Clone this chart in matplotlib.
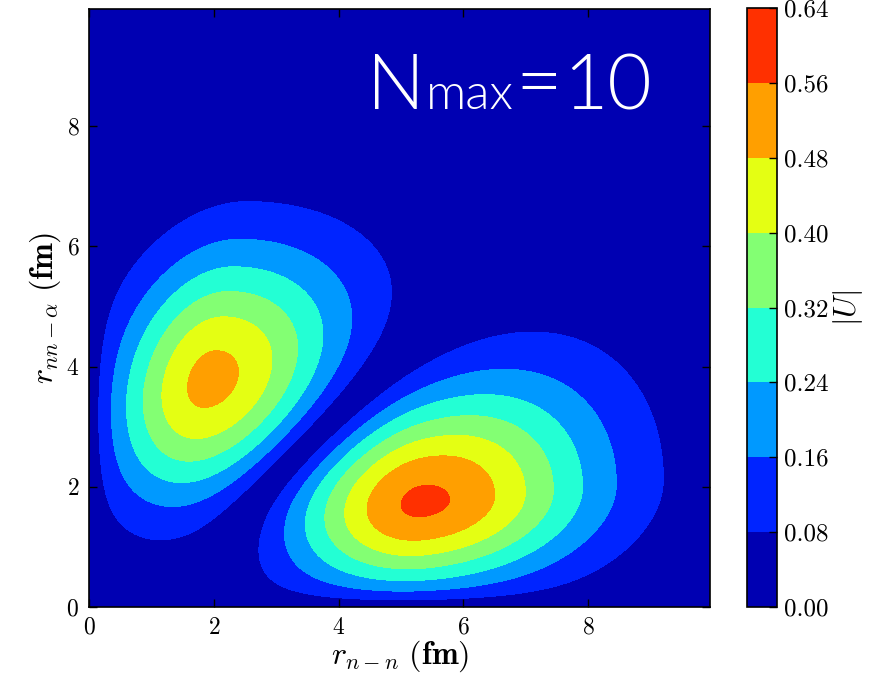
import numpy as np
import matplotlib
matplotlib.use('Agg')
import matplotlib.pyplot as plt
from matplotlib.offsetbox import TextArea, HPacker, AnnotationBbox

plt.rcParams['font.family'] = 'serif'
plt.rcParams['font.serif'] = ['cmr10']
plt.rcParams['mathtext.fontset'] = 'cm'
plt.rcParams['axes.formatter.use_mathtext'] = True
plt.rcParams['axes.unicode_minus'] = False

# Two lobes of the n-n / nn-alpha amplitude (fm), signed peak heights
# and widths on the low / high side of each peak
lobe_x0 = [1.94, 5.33]
lobe_y0 = [3.77, 1.74]
lobe_amp = [0.505, -0.575]
lobe_sx_lo = [1.10, 1.50]
lobe_sx_hi = [1.40, 1.95]
lobe_sy_lo = [1.45, 1.05]
lobe_sy_hi = [1.55, 1.25]
lobe_shear_x = [0.20, 0.0]  # x-centre drifts with r_nn-alpha
lobe_shear_y = [0.0, 0.10]  # y-centre drifts with r_n-n
lobe_kx = [0.14, 0.0]       # outer x-width grows with r_nn-alpha
lobe_ky = [0.0, 0.15]       # outer y-width grows with r_n-n
wall = 0.2                  # amplitude vanishes at r = 0

levels = [0.00, 0.08, 0.16, 0.24, 0.32, 0.40, 0.48, 0.56, 0.64]
axis_ticks = [0, 2, 4, 6, 8]
r_max = 9.95


def amplitude(X, Y):
    psi = np.zeros_like(X)
    for i in range(len(lobe_amp)):
        dx = X - lobe_x0[i]
        dy = Y - lobe_y0[i]
        u = dx - lobe_shear_x[i] * dy
        v = dy - lobe_shear_y[i] * dx
        sxh = np.clip(lobe_sx_hi[i] + lobe_kx[i] * dy, 0.3, None)
        syh = np.clip(lobe_sy_hi[i] + lobe_ky[i] * dx, 0.3, None)
        sx = np.where(u < 0, lobe_sx_lo[i], sxh)
        sy = np.where(v < 0, lobe_sy_lo[i], syh)
        psi += lobe_amp[i] * np.exp(-0.5 * ((u / sx) ** 2 + (v / sy) ** 2))
    psi *= (1 - np.exp(-X / wall)) * (1 - np.exp(-Y / wall))
    return np.abs(psi)


r_nn = np.linspace(0, r_max, 600)
r_c = np.linspace(0, r_max, 600)
X, Y = np.meshgrid(r_nn, r_c)
U = amplitude(X, Y)

colors = plt.cm.jet(np.linspace(0.045, 0.857, len(levels) - 1))

fig = plt.figure(figsize=(8.7, 6.79), dpi=100)
ax = fig.add_axes([89 / 870, 72 / 679, 621 / 870, 598 / 679])
cax = fig.add_axes([747 / 870, 72 / 679, 30 / 870, 599 / 679])

cs = ax.contourf(X, Y, U, levels=levels, colors=colors)
ax.set_xlim(0, r_max)
ax.set_ylim(0, r_max)
ax.set_xticks(axis_ticks)
ax.set_yticks(axis_ticks)
ax.tick_params(direction='in', length=6, width=1, labelsize=17,
               top=True, right=True, pad=7)
for sp in ax.spines.values():
    sp.set_linewidth(1.2)

ax.set_xlabel(r'$r_{n-n}\ \mathbf{(fm)}$', fontsize=23, labelpad=0)
ax.set_ylabel(r'$r_{nn-\alpha}\ \mathbf{(fm)}$', fontsize=23, labelpad=2)

# N_max label, pieces set on a common baseline
label_font = dict(color='white', family='Lato', fontweight=300)
nmax = HPacker(children=[
    TextArea('N', textprops=dict(fontsize=55, **label_font)),
    TextArea('max', textprops=dict(fontsize=36, **label_font)),
    TextArea('=', textprops=dict(fontsize=58, **label_font)),
    TextArea('10', textprops=dict(fontsize=55, **label_font)),
], align='baseline', pad=0, sep=1)
ax.add_artist(AnnotationBbox(nmax, (4.45, 8.05), xycoords='data',
                             box_alignment=(0, 0), frameon=False, pad=0))

cbar = fig.colorbar(cs, cax=cax, ticks=levels, format='%.2f')
cbar.ax.tick_params(direction='in', length=6, width=1, labelsize=18, pad=5)
cbar.outline.set_linewidth(1.2)
cbar.set_label(r'$|U|$', fontsize=22, labelpad=2)

fig.savefig('out.png', dpi=100)
